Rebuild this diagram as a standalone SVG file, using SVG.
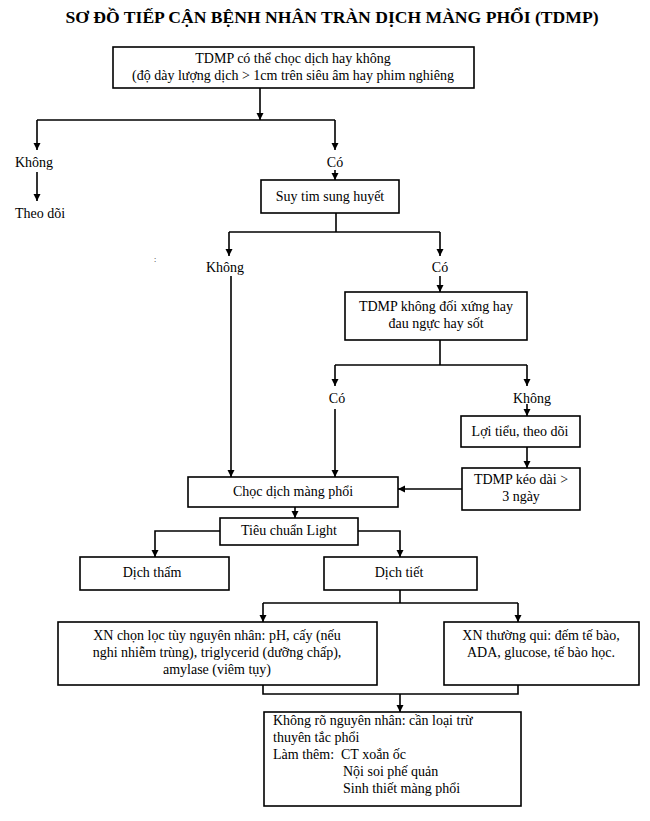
<svg xmlns="http://www.w3.org/2000/svg" width="650" height="821" viewBox="0 0 650 821">
<style>
text{font-family:"Liberation Serif","Times New Roman",serif;font-size:14px;fill:#000}
.t{font-size:17.6px;font-weight:bold}
.c{text-anchor:middle}
rect{fill:#fff;stroke:#000;stroke-width:1.6}
#connectors path{fill:none;stroke:#000;stroke-width:1.6}
</style>
<defs>
<marker id="ah" markerWidth="8" markerHeight="8" refX="7" refY="4" orient="auto" markerUnits="userSpaceOnUse">
<path d="M0,0.5 L7,4 L0,7.5 Z" fill="#000"/>
</marker>
</defs>
<rect x="0" y="0" width="650" height="821" style="stroke:none"/>
<text class="t c" x="332" y="23">SƠ ĐỒ TIẾP CẬN BỆNH NHÂN TRÀN DỊCH MÀNG PHỔI (TDMP)</text>

<g id="connectors">
<path d="M260,88 V120" marker-end="url(#ah)"/>
<path d="M37,120 H335"/>
<path d="M37,120 V150" marker-end="url(#ah)"/>
<path d="M335,120 V150" marker-end="url(#ah)"/>
<path d="M37,172 V201" marker-end="url(#ah)"/>
<path d="M335,170 V180" marker-end="url(#ah)"/>
<path d="M336,213 V232" />
<path d="M229,232 H440"/>
<path d="M229,232 V256" marker-end="url(#ah)"/>
<path d="M440,232 V256" marker-end="url(#ah)"/>
<path d="M440,276 V292" marker-end="url(#ah)"/>
<path d="M231,276 V477" marker-end="url(#ah)"/>
<path d="M440,340 V365"/>
<path d="M335,365 H527"/>
<path d="M335,365 V386" marker-end="url(#ah)"/>
<path d="M527,365 V386" marker-end="url(#ah)"/>
<path d="M335,409 V477" marker-end="url(#ah)"/>
<path d="M527,404 V416" marker-end="url(#ah)"/>
<path d="M527,447 V468" marker-end="url(#ah)"/>
<path d="M462,489 H398" marker-end="url(#ah)"/>
<path d="M295,507 V518" marker-end="url(#ah)"/>
<path d="M220,531 H155 V557" marker-end="url(#ah)"/>
<path d="M358,531 H400 V557" marker-end="url(#ah)"/>
<path d="M400,590 V603"/>
<path d="M263,603 H518"/>
<path d="M263,603 V622" marker-end="url(#ah)"/>
<path d="M518,603 V622" marker-end="url(#ah)"/>
<path d="M263,685 V694 H518 V685"/>
<path d="M400,694 V712" marker-end="url(#ah)"/>
</g>

<g id="n1"><rect x="113" y="47" width="361" height="41"/>
<text class="c" x="293" y="63">TDMP có thể chọc dịch hay không</text>
<text class="c" x="293" y="80">(độ dày lượng dịch &gt; 1cm trên siêu âm hay phim nghiêng</text></g>
<g id="l_khong1"><text x="15" y="167">Không</text></g>
<g id="l_theodoi"><text x="15" y="218">Theo dõi</text></g>
<g id="l_co1"><text class="c" x="335" y="167">Có</text></g>
<g id="n2"><rect x="261" y="180" width="138" height="33"/>
<text class="c" x="330" y="201">Suy tim sung huyết</text></g>
<text x="154" y="262" style="font-size:8px">:</text>
<g id="l_khong2"><text class="c" x="225" y="272">Không</text></g>
<g id="l_co2"><text class="c" x="440" y="272">Có</text></g>
<g id="n3"><rect x="345" y="292" width="182" height="48"/>
<text class="c" x="436" y="311">TDMP không đối xứng hay</text>
<text class="c" x="436" y="328">đau ngực hay  sốt</text></g>
<g id="l_co3"><text class="c" x="337" y="403">Có</text></g>
<g id="l_khong3"><text class="c" x="532" y="403">Không</text></g>
<g id="n4"><rect x="461" y="416" width="119" height="31"/>
<text class="c" x="520" y="436">Lợi tiểu, theo dõi</text></g>
<g id="n5"><rect x="462" y="468" width="118" height="42"/>
<text class="c" x="521" y="484">TDMP kéo dài &gt;</text>
<text class="c" x="521" y="501">3 ngày</text></g>
<g id="n6"><rect x="188" y="477" width="210" height="30"/>
<text class="c" x="293" y="496">Chọc dịch màng phổi</text></g>
<g id="n7"><rect x="220" y="518" width="138" height="27"/>
<text class="c" x="289" y="535">Tiêu chuẩn Light</text></g>
<g id="n8"><rect x="80" y="557" width="149" height="33"/>
<text class="c" x="152" y="577">Dịch thấm</text></g>
<g id="n9"><rect x="324" y="557" width="153" height="33"/>
<text class="c" x="399" y="577">Dịch tiết</text></g>
<g id="n10"><rect x="58" y="622" width="319" height="63"/>
<text class="c" x="217" y="640">XN chọn lọc tùy nguyên nhân: pH, cấy  (nếu</text>
<text class="c" x="217" y="657">nghi nhiễm trùng), triglycerid (dưỡng chấp),</text>
<text class="c" x="217" y="674">amylase (viêm tụy)</text></g>
<g id="n11"><rect x="444" y="622" width="195" height="63"/>
<text class="c" x="541" y="640">XN thường qui: đếm tế bào,</text>
<text class="c" x="541" y="657">ADA, glucose, tế bào học.</text></g>
<g id="n12"><rect x="264" y="712" width="257" height="94"/>
<text x="273" y="725">Không rõ nguyên nhân: cần loại trừ</text>
<text x="273" y="742">thuyên tắc phổi</text>
<text x="273" y="759">Làm thêm:</text>
<text x="341" y="759">CT xoắn ốc</text>
<text x="343" y="776">Nội soi phế quản</text>
<text x="343" y="793">Sinh thiết màng phổi</text></g>
</svg>
